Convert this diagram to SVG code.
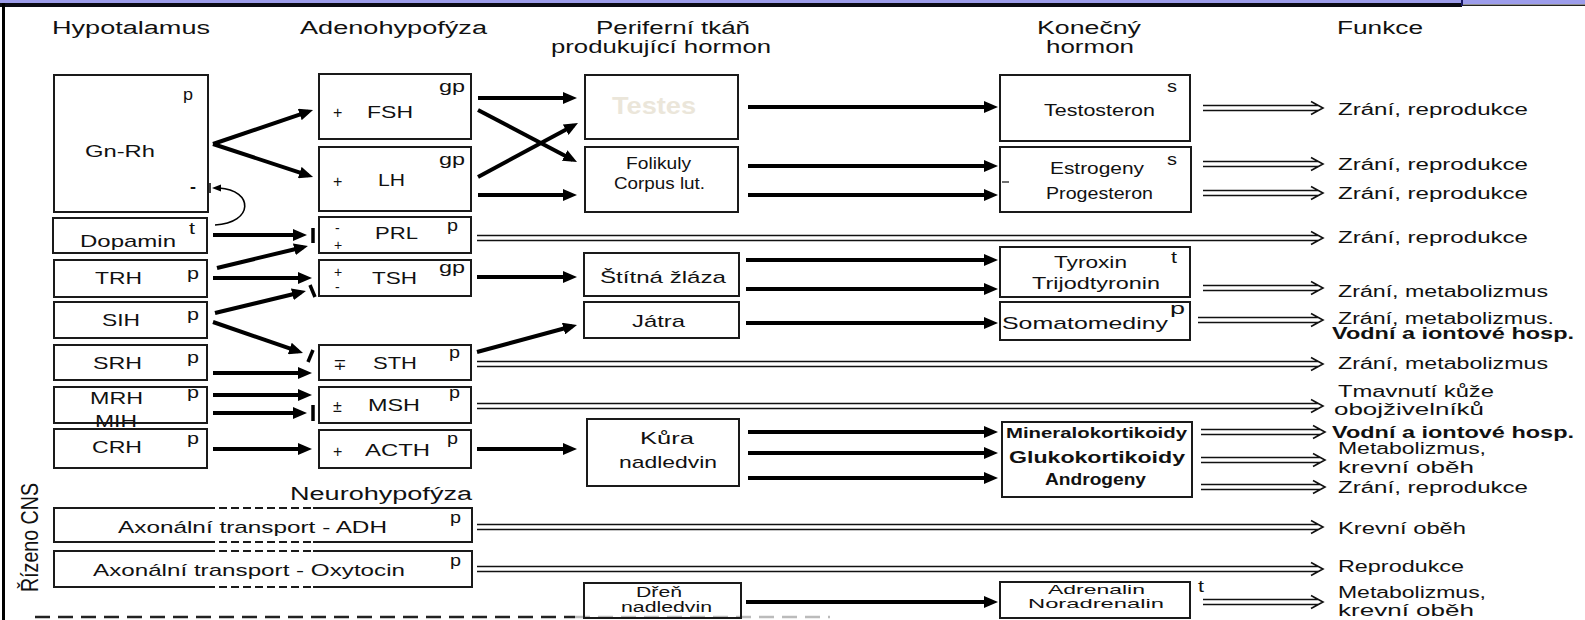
<svg xmlns="http://www.w3.org/2000/svg" width="1585" height="620" viewBox="0 0 1585 620">
<style>
.bx{fill:none;stroke:#1a1a1a;stroke-width:2}
.t{font-family:"Liberation Sans",Arial,"DejaVu Sans",sans-serif;font-size:17px;fill:#111}
.h{font-size:18px}
.f{font-size:16px}
.sm{font-size:14px}
.xs{font-size:13px}
.sg{font-size:16px}
.b{font-weight:bold}
.ar{stroke:#000;stroke-width:4;fill:none;marker-end:url(#ah)}
.dl{stroke:#111;stroke-width:1.6;fill:none}
.inh{stroke:#000;stroke-width:3.5}
</style>
<defs>
<marker id="ah" markerUnits="userSpaceOnUse" markerWidth="16" markerHeight="12" refX="9" refY="6" orient="auto"><path d="M0,0 L14,6 L0,12 z" fill="#000"/></marker>
</defs>
<rect width="1585" height="620" fill="#fff"/>
<g id="frame">
<rect x="0" y="0" width="1585" height="4" fill="#9d9deb"/>
<rect x="0" y="3" width="1462" height="4" fill="#0a0a14"/>
<rect x="1462" y="4.5" width="123" height="1.5" fill="#222"/>
<rect x="1461" y="0" width="2" height="6" fill="#1a1a66"/>
<rect x="2" y="3" width="3" height="617" fill="#000"/>
<line x1="35" y1="617" x2="575" y2="617" stroke="#222" stroke-width="2.5" stroke-dasharray="15 8"/>
<line x1="575" y1="617" x2="830" y2="617" stroke="#bbb" stroke-width="2.5" stroke-dasharray="15 8"/>
</g>
<g id="headers" class="t h">
<text x="52" y="34" textLength="158" lengthAdjust="spacingAndGlyphs">Hypotalamus</text>
<text x="300" y="34" textLength="187" lengthAdjust="spacingAndGlyphs">Adenohypofýza</text>
<text x="596" y="34" textLength="154" lengthAdjust="spacingAndGlyphs">Periferní tkáň</text>
<text x="551" y="53" textLength="220" lengthAdjust="spacingAndGlyphs">produkující hormon</text>
<text x="1037" y="34" textLength="104" lengthAdjust="spacingAndGlyphs">Konečný</text>
<text x="1046" y="53" textLength="88" lengthAdjust="spacingAndGlyphs">hormon</text>
<text x="1337" y="34" textLength="86" lengthAdjust="spacingAndGlyphs">Funkce</text>
<text x="290" y="500" textLength="182" lengthAdjust="spacingAndGlyphs">Neurohypofýza</text>
<text transform="translate(38,592) rotate(-90)" x="0" y="0" style="font-size:23px" textLength="109" lengthAdjust="spacingAndGlyphs">Řízeno CNS</text>
</g>
<g id="n-gnrh" class="t"><rect class="bx" x="54" y="75" width="154" height="137"/>
<text class="sg" x="183" y="100" textLength="10" lengthAdjust="spacingAndGlyphs">p</text>
<text x="85" y="157" textLength="70" lengthAdjust="spacingAndGlyphs">Gn-Rh</text>
<text class="b" x="190" y="192" textLength="6" lengthAdjust="spacingAndGlyphs">-</text></g>
<g id="n-dopamin" class="t"><rect class="bx" x="53" y="218" width="154" height="35"/>
<text x="80" y="247" textLength="96" lengthAdjust="spacingAndGlyphs">Dopamin</text>
<text class="sg" x="189" y="234" textLength="6" lengthAdjust="spacingAndGlyphs">t</text></g>
<g id="n-trh" class="t"><rect class="bx" x="54" y="260" width="153" height="37"/>
<text x="95" y="284" textLength="47" lengthAdjust="spacingAndGlyphs">TRH</text>
<text class="sg" x="187" y="279" textLength="12" lengthAdjust="spacingAndGlyphs">p</text></g>
<g id="n-sih" class="t"><rect class="bx" x="54" y="302" width="153" height="36"/>
<text x="102" y="326" textLength="38" lengthAdjust="spacingAndGlyphs">SIH</text>
<text class="sg" x="187" y="320" textLength="12" lengthAdjust="spacingAndGlyphs">p</text></g>
<g id="n-srh" class="t"><rect class="bx" x="54" y="345" width="153" height="35"/>
<text x="93" y="369" textLength="49" lengthAdjust="spacingAndGlyphs">SRH</text>
<text class="sg" x="187" y="363" textLength="12" lengthAdjust="spacingAndGlyphs">p</text></g>
<g id="n-mrh" class="t"><rect class="bx" x="54" y="387" width="153" height="36"/>
<text x="90" y="404" textLength="53" lengthAdjust="spacingAndGlyphs">MRH</text>
<text x="95" y="427" textLength="42" lengthAdjust="spacingAndGlyphs">MIH</text>
<text class="sg" x="187" y="398" textLength="12" lengthAdjust="spacingAndGlyphs">p</text></g>
<g id="n-crh" class="t"><rect class="bx" x="54" y="429" width="153" height="39"/>
<text x="92" y="453" textLength="50" lengthAdjust="spacingAndGlyphs">CRH</text>
<text class="sg" x="187" y="444" textLength="12" lengthAdjust="spacingAndGlyphs">p</text></g>
<g id="n-fsh" class="t"><rect class="bx" x="319" y="74" width="152" height="65"/>
<text class="sg" x="439" y="92" textLength="26" lengthAdjust="spacingAndGlyphs">gp</text>
<text class="sg" x="333" y="118">+</text>
<text x="367" y="118" textLength="46" lengthAdjust="spacingAndGlyphs">FSH</text></g>
<g id="n-lh" class="t"><rect class="bx" x="319" y="147" width="152" height="64"/>
<text class="sg" x="439" y="165" textLength="26" lengthAdjust="spacingAndGlyphs">gp</text>
<text class="sg" x="333" y="187">+</text>
<text x="378" y="186" textLength="27" lengthAdjust="spacingAndGlyphs">LH</text></g>
<g id="n-prl" class="t"><rect class="bx" x="319" y="217" width="152" height="36"/>
<text class="sm" x="335" y="233">-</text><text class="sm" x="334" y="250">+</text>
<text x="375" y="239" textLength="43" lengthAdjust="spacingAndGlyphs">PRL</text>
<text class="sg" x="447" y="231" textLength="11" lengthAdjust="spacingAndGlyphs">p</text></g>
<g id="n-tsh" class="t"><rect class="bx" x="319" y="260" width="152" height="36"/>
<text class="sm" x="334" y="277">+</text><text class="sm" x="335" y="292">-</text>
<text x="372" y="284" textLength="45" lengthAdjust="spacingAndGlyphs">TSH</text>
<text class="sg" x="439" y="273" textLength="26" lengthAdjust="spacingAndGlyphs">gp</text></g>
<g id="n-sth" class="t"><rect class="bx" x="319" y="345" width="152" height="35"/>
<text class="sg" x="333" y="370">∓</text>
<text x="373" y="369" textLength="44" lengthAdjust="spacingAndGlyphs">STH</text>
<text class="sg" x="449" y="358" textLength="11" lengthAdjust="spacingAndGlyphs">p</text></g>
<g id="n-msh" class="t"><rect class="bx" x="319" y="387" width="152" height="36"/>
<text class="sg" x="333" y="412">±</text>
<text x="368" y="411" textLength="52" lengthAdjust="spacingAndGlyphs">MSH</text>
<text class="sg" x="449" y="398" textLength="11" lengthAdjust="spacingAndGlyphs">p</text></g>
<g id="n-acth" class="t"><rect class="bx" x="319" y="430" width="152" height="38"/>
<text class="sg" x="333" y="457">+</text>
<text x="365" y="456" textLength="65" lengthAdjust="spacingAndGlyphs">ACTH</text>
<text class="sg" x="447" y="444" textLength="11" lengthAdjust="spacingAndGlyphs">p</text></g>
<g id="n-adh" class="t">
<path class="bx" d="M207 508H54V542H207M313 508H472V542H313"/>
<path class="bx" stroke-dasharray="8 4" d="M207 508H313M207 542H313"/>
<text x="118" y="533" textLength="269" lengthAdjust="spacingAndGlyphs">Axonální transport - ADH</text>
<text class="sg" x="450" y="523" textLength="11" lengthAdjust="spacingAndGlyphs">p</text></g>
<g id="n-oxytocin" class="t">
<path class="bx" d="M207 551H54V587H207M313 551H472V587H313"/>
<path class="bx" stroke-dasharray="8 4" d="M207 551H313M207 587H313"/>
<text x="93" y="576" textLength="312" lengthAdjust="spacingAndGlyphs">Axonální transport - Oxytocin</text>
<text class="sg" x="450" y="566" textLength="11" lengthAdjust="spacingAndGlyphs">p</text></g>
<g id="n-testes" class="t"><rect class="bx" x="585" y="75" width="153" height="64"/>
<text class="b" x="612" y="114" style="font-size:23px;fill:#ebe6da" textLength="84" lengthAdjust="spacingAndGlyphs">Testes</text></g>
<g id="n-folikuly" class="t"><rect class="bx" x="585" y="147" width="153" height="65"/>
<text x="626" y="169" textLength="65" lengthAdjust="spacingAndGlyphs">Folikuly</text>
<text x="614" y="189" textLength="91" lengthAdjust="spacingAndGlyphs">Corpus lut.</text></g>
<g id="n-stitna" class="t"><rect class="bx" x="584" y="253" width="155" height="43"/>
<text x="600" y="283" textLength="126" lengthAdjust="spacingAndGlyphs">Štítná žláza</text></g>
<g id="n-jatra" class="t"><rect class="bx" x="584" y="302" width="155" height="36"/>
<text x="632" y="327" textLength="53" lengthAdjust="spacingAndGlyphs">Játra</text></g>
<g id="n-kura" class="t"><rect class="bx" x="587" y="419" width="152" height="67"/>
<text x="640" y="444" textLength="54" lengthAdjust="spacingAndGlyphs">Kůra</text>
<text x="619" y="468" textLength="98" lengthAdjust="spacingAndGlyphs">nadledvin</text></g>
<g id="n-dren" class="t"><rect class="bx" x="584" y="583" width="157" height="35"/>
<text x="636" y="597" class="sm" textLength="46" lengthAdjust="spacingAndGlyphs">Dřeň</text>
<text x="621" y="612" class="sm" textLength="91" lengthAdjust="spacingAndGlyphs">nadledvin</text></g>
<g id="n-testosteron" class="t"><rect class="bx" x="1000" y="75" width="190" height="66"/>
<text class="sg" x="1167" y="92" textLength="10" lengthAdjust="spacingAndGlyphs">s</text>
<text x="1044" y="116" textLength="111" lengthAdjust="spacingAndGlyphs">Testosteron</text></g>
<g id="n-estrogeny" class="t"><rect class="bx" x="1000" y="147" width="191" height="65"/>
<text class="sg" x="1167" y="165" textLength="10" lengthAdjust="spacingAndGlyphs">s</text>
<text x="1050" y="174" textLength="94" lengthAdjust="spacingAndGlyphs">Estrogeny</text>
<text x="1046" y="199" textLength="107" lengthAdjust="spacingAndGlyphs">Progesteron</text>
<line x1="1002" y1="182" x2="1009" y2="182" stroke="#111" stroke-width="1.2"/></g>
<g id="n-tyroxin" class="t"><rect class="bx" x="1000" y="247" width="190" height="50"/>
<text x="1054" y="268" textLength="73" lengthAdjust="spacingAndGlyphs">Tyroxin</text>
<text class="sg" x="1171" y="263" textLength="6" lengthAdjust="spacingAndGlyphs">t</text>
<text x="1032" y="289" textLength="128" lengthAdjust="spacingAndGlyphs">Trijodtyronin</text></g>
<g id="n-somatomediny" class="t"><rect class="bx" x="1000" y="302" width="190" height="38"/>
<text x="1002" y="329" textLength="166" lengthAdjust="spacingAndGlyphs">Somatomediny</text>
<text class="sg" x="1170" y="314" textLength="15" lengthAdjust="spacingAndGlyphs">p</text></g>
<g id="n-kortikoidy" class="t b"><rect class="bx" x="1002" y="422" width="190" height="75"/>
<text x="1006" y="438" class="sm" textLength="181" lengthAdjust="spacingAndGlyphs">Mineralokortikoidy</text>
<text x="1009" y="463" class="sg" textLength="176" lengthAdjust="spacingAndGlyphs">Glukokortikoidy</text>
<text x="1045" y="485" class="sg" textLength="101" lengthAdjust="spacingAndGlyphs">Androgeny</text></g>
<g id="n-adrenalin" class="t"><rect class="bx" x="1000" y="582" width="190" height="36"/>
<text x="1048" y="594" class="xs" textLength="97" lengthAdjust="spacingAndGlyphs">Adrenalin</text>
<text x="1028" y="608" class="xs" textLength="136" lengthAdjust="spacingAndGlyphs">Noradrenalin</text>
<text class="sg" x="1198" y="592" textLength="6" lengthAdjust="spacingAndGlyphs">t</text></g>
<g id="functions" class="t f">
<text x="1338" y="115" textLength="190" lengthAdjust="spacingAndGlyphs">Zrání, reprodukce</text>
<text x="1338" y="170" textLength="190" lengthAdjust="spacingAndGlyphs">Zrání, reprodukce</text>
<text x="1338" y="199" textLength="190" lengthAdjust="spacingAndGlyphs">Zrání, reprodukce</text>
<text x="1338" y="243" textLength="190" lengthAdjust="spacingAndGlyphs">Zrání, reprodukce</text>
<text x="1338" y="297" textLength="210" lengthAdjust="spacingAndGlyphs">Zrání, metabolizmus</text>
<text x="1338" y="324" textLength="216" lengthAdjust="spacingAndGlyphs">Zrání, metabolizmus.</text>
<text x="1332" y="339" class="b" textLength="242" lengthAdjust="spacingAndGlyphs">Vodní a iontové hosp.</text>
<text x="1338" y="369" textLength="210" lengthAdjust="spacingAndGlyphs">Zrání, metabolizmus</text>
<text x="1338" y="397" textLength="156" lengthAdjust="spacingAndGlyphs">Tmavnutí kůže</text>
<text x="1334" y="415" textLength="150" lengthAdjust="spacingAndGlyphs">obojživelníků</text>
<text x="1332" y="438" class="b" textLength="242" lengthAdjust="spacingAndGlyphs">Vodní a iontové hosp.</text>
<text x="1338" y="454" textLength="148" lengthAdjust="spacingAndGlyphs">Metabolizmus,</text>
<text x="1338" y="473" textLength="136" lengthAdjust="spacingAndGlyphs">krevní oběh</text>
<text x="1338" y="493" textLength="190" lengthAdjust="spacingAndGlyphs">Zrání, reprodukce</text>
<text x="1338" y="534" textLength="128" lengthAdjust="spacingAndGlyphs">Krevní oběh</text>
<text x="1338" y="572" textLength="126" lengthAdjust="spacingAndGlyphs">Reprodukce</text>
<text x="1338" y="598" textLength="148" lengthAdjust="spacingAndGlyphs">Metabolizmus,</text>
<text x="1338" y="616" textLength="136" lengthAdjust="spacingAndGlyphs">krevní oběh</text>
</g>
<g id="connectors">
<path class="ar" d="M213 144L308.3 111.6"/>
<path class="ar" d="M213 144L308.3 175.4"/>
<path class="ar" d="M213 235H302"/>
<path class="ar" d="M217 268L303.1 247.2"/>
<path class="ar" d="M213 278H307"/>
<path class="ar" d="M215 313L301.1 292.2"/>
<path class="ar" d="M213 322L298.3 351.4"/>
<path class="ar" d="M213 373H307"/>
<path class="ar" d="M213 395H307"/>
<path class="ar" d="M213 413H302"/>
<path class="ar" d="M213 449H307"/>
<line class="inh" x1="313" y1="228" x2="313" y2="243"/>
<line class="inh" x1="310" y1="285" x2="315" y2="297"/>
<line class="inh" x1="313" y1="350" x2="308" y2="362"/>
<line class="inh" x1="313" y1="405" x2="313" y2="421"/>
<path d="M215 225C254 223 254 190 219 188" stroke="#000" stroke-width="1.6" fill="none"/>
<path d="M212 188L221 184.5L221 191.5z" fill="#000"/>
<line x1="210" y1="183" x2="210" y2="193" stroke="#000" stroke-width="1.5"/>
<path class="ar" d="M478 98H572"/>
<path class="ar" d="M478 110L572.6 159.7"/>
<path class="ar" d="M478 177L573.6 125.4"/>
<path class="ar" d="M478 195H572"/>
<path class="ar" d="M477 277H572"/>
<path class="ar" d="M477 352L572.2 326.3"/>
<path class="ar" d="M477 449H572"/>
<path class="ar" d="M748 107H993"/>
<path class="ar" d="M748 166H993"/>
<path class="ar" d="M748 195H993"/>
<path class="ar" d="M746 260H993"/>
<path class="ar" d="M746 289H993"/>
<path class="ar" d="M746 323H993"/>
<path class="ar" d="M748 432H993"/>
<path class="ar" d="M748 453H993"/>
<path class="ar" d="M748 478H993"/>
<path class="ar" d="M746 602H993"/>
<path class="dl" d="M1203 105.5H1318M1203 110.5H1318M1311 101.5L1323 108L1311 114.5"/>
<path class="dl" d="M1203 161.5H1318M1203 166.5H1318M1311 157.5L1323 164L1311 170.5"/>
<path class="dl" d="M1203 190.5H1318M1203 195.5H1318M1311 186.5L1323 193L1311 199.5"/>
<path class="dl" d="M477 235.5H1318M477 240.5H1318M1311 231.5L1323 238L1311 244.5"/>
<path class="dl" d="M1203 285.5H1318M1203 290.5H1318M1311 281.5L1323 288L1311 294.5"/>
<path class="dl" d="M1198 317.5H1318M1198 322.5H1318M1311 313.5L1323 320L1311 326.5"/>
<path class="dl" d="M477 361.5H1318M477 366.5H1318M1311 357.5L1323 364L1311 370.5"/>
<path class="dl" d="M477 403.5H1318M477 408.5H1318M1311 399.5L1323 406L1311 412.5"/>
<path class="dl" d="M1201 429.5H1320M1201 434.5H1320M1313 425.5L1325 432L1313 438.5"/>
<path class="dl" d="M1201 457.5H1320M1201 462.5H1320M1313 453.5L1325 460L1313 466.5"/>
<path class="dl" d="M1201 484.5H1320M1201 489.5H1320M1313 480.5L1325 487L1313 493.5"/>
<path class="dl" d="M477 524.5H1318M477 529.5H1318M1311 520.5L1323 527L1311 533.5"/>
<path class="dl" d="M477 566.5H1318M477 571.5H1318M1311 562.5L1323 569L1311 575.5"/>
<path class="dl" d="M1203 599.5H1318M1203 604.5H1318M1311 595.5L1323 602L1311 608.5"/>
</g>
</svg>
